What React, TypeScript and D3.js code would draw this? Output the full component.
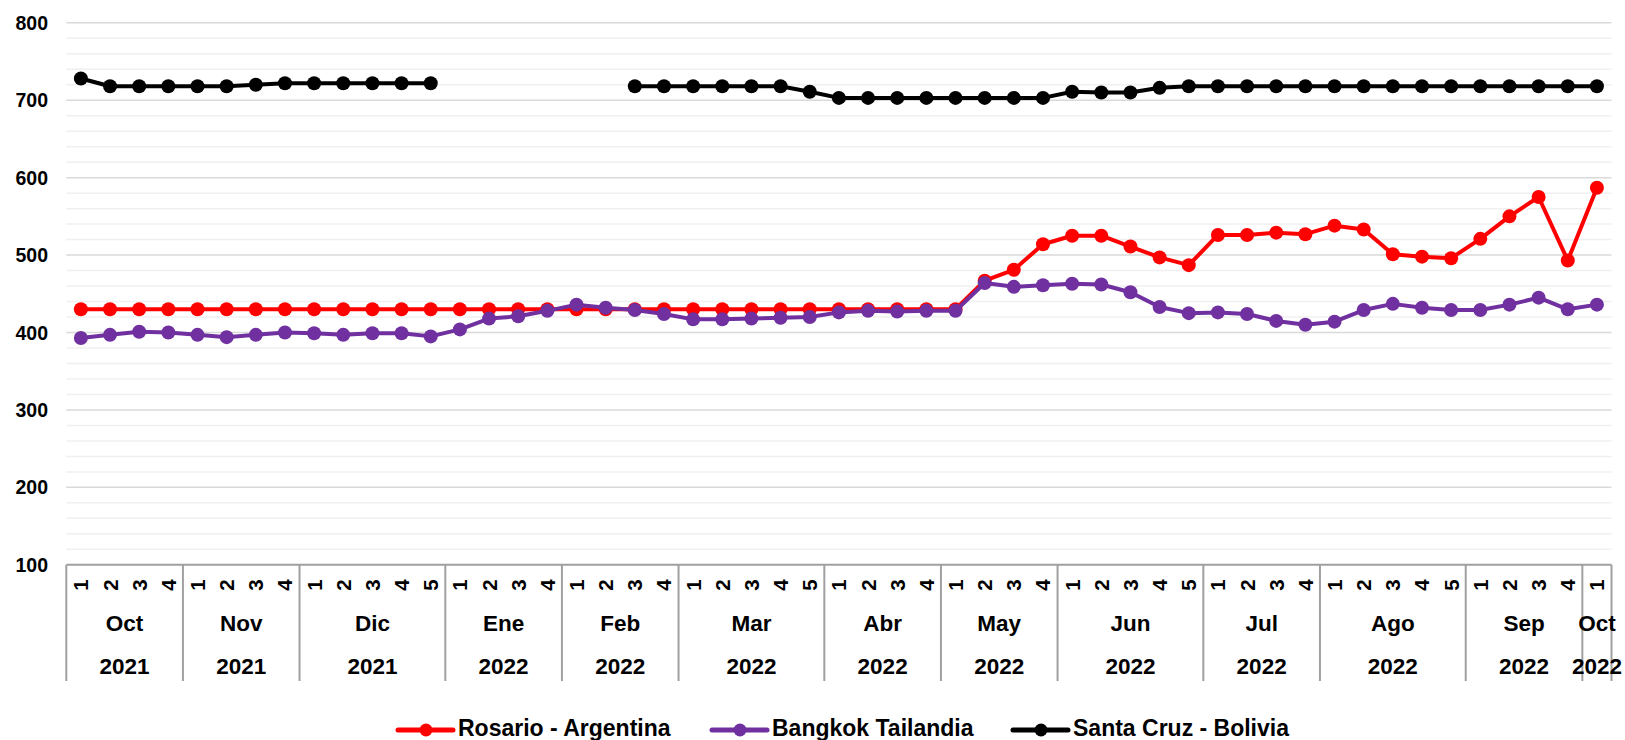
import React from 'react';
import * as d3 from 'd3';

// Category axis: weeks grouped by month and year
const monthLabels = ['Oct', 'Nov', 'Dic', 'Ene', 'Feb', 'Mar', 'Abr', 'May', 'Jun', 'Jul', 'Ago', 'Sep', 'Oct'];
const yearLabels = ['2021', '2021', '2021', '2022', '2022', '2022', '2022', '2022', '2022', '2022', '2022', '2022', '2022'];
const weeksPerMonth = [4, 4, 5, 4, 4, 5, 4, 4, 5, 4, 5, 4, 1];

const yTicks = [100, 200, 300, 400, 500, 600, 700, 800];

// Series values, one per week (null = no data)
const rosario = [
  430, 430, 430, 430, 430, 430, 430, 430, 430, 430,
  430, 430, 430, 430, 430, 430, 430, 430, 430, 430,
  430, 430, 430, 430, 430, 430, 430, 430, 430, 430,
  430, 467, 481, 514, 525, 525, 511, 497, 487, 526,
  526, 529, 527, 538, 533, 501, 498, 496, 521, 550,
  575, 493, 587,
];
const bangkok = [
  393, 397, 401, 400, 397, 394, 397, 400, 399, 397,
  399, 399, 395, 404, 418, 421, 428, 436, 432, 429,
  424, 417, 417, 418, 419, 420, 426, 428, 427, 428,
  428, 464, 459, 461, 463, 462, 452, 433, 425, 426,
  424, 415, 410, 414, 429, 437, 432, 429, 429, 436,
  445, 430, 436,
];
const santaCruz: (number | null)[] = [
  728, 718, 718, 718, 718, 718, 720, 722, 722, 722,
  722, 722, 722, null, null, null, null, null, null, 718,
  718, 718, 718, 718, 718, 711, 703, 703, 703, 703,
  703, 703, 703, 703, 711, 710, 710, 716, 718, 718,
  718, 718, 718, 718, 718, 718, 718, 718, 718, 718,
  718, 718, 718,
];

const seriesNames = ['Rosario - Argentina', 'Bangkok Tailandia', 'Santa Cruz - Bolivia'];
const seriesColors = ['#ff0000', '#7030a0', '#000000'];

const W = 1625;
const H = 740;
const FONT = '"Liberation Sans", Arial, sans-serif';

type Cat = { key: string; week: number; month: number };

const cats: Cat[] = [];
weeksPerMonth.forEach((n, m) => {
  for (let w = 1; w <= n; w++) cats.push({ key: `${m}-${w}`, week: w, month: m });
});

const App: React.FC = () => {
  const x = d3.scaleBand<string>()
    .domain(cats.map(c => c.key))
    .range([66.3, 1611.5])
    .padding(0);
  const y = d3.scaleLinear().domain([100, 800]).range([564.8, 22.8]);
  const xc = (i: number) => (x(cats[i].key) || 0) + x.bandwidth() / 2;

  const minor = d3.range(120, 800, 20).filter(v => v % 100 !== 0);
  const major = yTicks.filter(v => v > 100);

  // month group boundaries in category index
  const bounds: number[] = [0];
  weeksPerMonth.forEach(n => bounds.push(bounds[bounds.length - 1] + n));
  const bx = (b: number) => (b < cats.length ? x(cats[b].key) || 0 : x.range()[1]);

  const line = d3.line<number | null>()
    .defined(d => d != null)
    .x((_, i) => xc(i))
    .y(d => y(d as number));

  const allSeries = [rosario, bangkok, santaCruz];

  const legendX = [398, 712, 1013];
  const legendY = 730;

  const x0 = x.range()[0];
  const x1 = x.range()[1];

  return (
    <svg width={W} height={H} style={{ position: 'absolute', left: 0, top: 0, background: '#fff' }}
      fontFamily={FONT} fontWeight="bold">
      {/* gridlines */}
      {minor.map(v => (
        <line key={'m' + v} x1={x0} x2={x1} y1={y(v)} y2={y(v)} stroke="#f0f0f0" strokeWidth={1.5} />
      ))}
      {major.map(v => (
        <line key={'M' + v} x1={x0} x2={x1} y1={y(v)} y2={y(v)} stroke="#d9d9d9" strokeWidth={1.5} />
      ))}

      {/* y labels */}
      {yTicks.map(v => (
        <text key={'y' + v} x={48} y={y(v)} textAnchor="end" dominantBaseline="central"
          fontSize={19.5} fill="#000">{v}</text>
      ))}

      {/* category axis */}
      <line x1={x0} x2={x1} y1={y(100)} y2={y(100)} stroke="#a0a0a0" strokeWidth={2} />
      {bounds.map((b, i) => (
        <line key={'b' + i} x1={bx(b)} x2={bx(b)} y1={y(100)} y2={681} stroke="#a0a0a0" strokeWidth={2} />
      ))}
      {cats.map((c, i) => (
        <text key={'w' + c.key} transform={`translate(${xc(i)},585) rotate(-90)`}
          textAnchor="middle" dominantBaseline="central" fontSize={20.5}>{c.week}</text>
      ))}
      {monthLabels.map((m, i) => {
        const cx = (bx(bounds[i]) + bx(bounds[i + 1])) / 2;
        return (
          <g key={'mo' + i}>
            <text x={cx} y={623} textAnchor="middle" dominantBaseline="central" fontSize={22.5}>{m}</text>
            <text x={cx} y={666} textAnchor="middle" dominantBaseline="central" fontSize={22.5}>{yearLabels[i]}</text>
          </g>
        );
      })}

      {/* series */}
      {allSeries.map((s, si) => (
        <g key={'s' + si}>
          <path d={line(s) || ''} fill="none" stroke={seriesColors[si]} strokeWidth={4}
            strokeLinejoin="round" strokeLinecap="round" />
          {s.map((v, i) => v == null ? null : (
            <circle key={i} cx={xc(i)} cy={y(v)} r={7} fill={seriesColors[si]} />
          ))}
        </g>
      ))}

      {/* legend */}
      {seriesNames.map((n, i) => (
        <g key={'l' + i} transform={`translate(${legendX[i]},${legendY})`}>
          <line x1={0} x2={55} y1={0} y2={0} stroke={seriesColors[i]} strokeWidth={5} strokeLinecap="round" />
          <circle cx={28} cy={0} r={6.5} fill={seriesColors[i]} />
          <text x={60} y={6} fontSize={23}>{n}</text>
        </g>
      ))}
    </svg>
  );
};

export default App;
